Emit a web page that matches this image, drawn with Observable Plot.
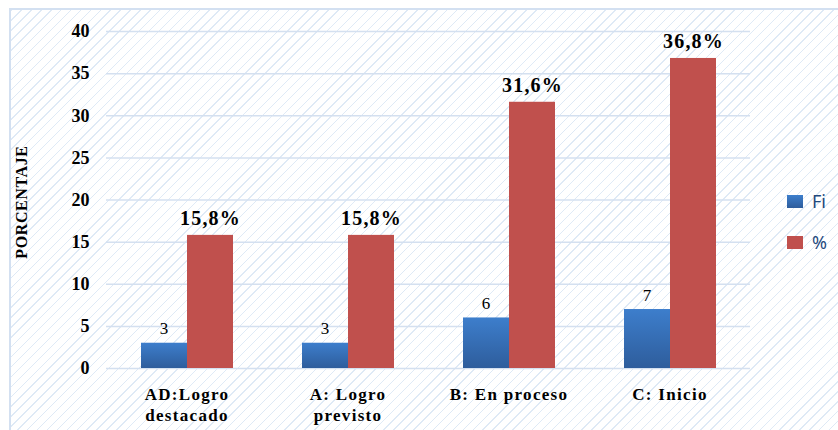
<!DOCTYPE html>
<html><head><meta charset="utf-8">
<script src="https://cdn.jsdelivr.net/npm/d3@7"></script>
<script src="https://cdn.jsdelivr.net/npm/@observablehq/plot@0.6"></script>
<style>
body{margin:0;background:#fff;}
#wrap{position:relative;width:838px;height:430px;overflow:hidden;}
#frame{position:absolute;left:9px;top:8px;width:840px;height:440px;border:2px solid #D3E0F1;box-sizing:border-box;
 background:repeating-linear-gradient(135deg, rgba(196,216,238,0.55) 0 1px, rgba(255,255,255,0) 1px 7px);}
#chart{position:absolute;left:0;top:0;}
#chart g[aria-label="fx-axis tick label"] text{letter-spacing:1.3px;}
#chart g[aria-label="text"] text{letter-spacing:1.2px;}
#ytitle{position:absolute;left:22px;top:202px;transform:translate(-50%,-50%) rotate(-90deg);font:bold 16px "Liberation Serif";letter-spacing:0.6px;color:#000;white-space:nowrap;}
.lg{position:absolute;left:787px;font:18px "Noto Sans";color:#1F497D;display:flex;align-items:center;}
.lg span{display:inline-block;width:16px;height:13px;margin-right:9px;}
</style></head>
<body>
<svg width="0" height="0" style="position:absolute">
 <defs>
  <linearGradient id="gBlue" x1="0" y1="0" x2="0" y2="1">
   <stop offset="0" stop-color="#3D7ECC"/>
   <stop offset="1" stop-color="#2E5D9C"/>
  </linearGradient>
 </defs>
</svg>
<div id="wrap">
 <div id="frame"></div>
 <div id="chart"></div>
 <div id="ytitle">PORCENTAJE</div>
 <div class="lg" style="top:189px"><span style="background:linear-gradient(#3D7ECC,#2E5D9C)"></span>Fi</div>
 <div class="lg" style="top:230px"><span style="background:#C0504D"></span>%</div>
</div>
<script>
const categories = ["AD:Logro\ndestacado", "A: Logro\nprevisto", "B: En proceso", "C: Inicio"];
const series = ["Fi", "%"];
const fiValues = [3, 3, 6, 7];
const pctValues = [15.8, 15.8, 31.6, 36.8];
const yTicks = [0, 5, 10, 15, 20, 25, 30, 35, 40];

const rowsFi = categories.map((c, i) => ({cat: c, serie: "Fi", value: fiValues[i], label: String(fiValues[i])}));
const rowsPct = categories.map((c, i) => ({cat: c, serie: "%", value: pctValues[i], label: pctValues[i].toFixed(1).replace(".", ",") + "%"}));

const chart = Plot.plot({
  width: 838, height: 430,
  marginLeft: 106, marginRight: 88, marginTop: 31, marginBottom: 62,
  style: {background: "transparent", fontFamily: "Liberation Serif", color: "#000", overflow: "visible"},
  fx: {domain: categories, padding: 0, label: null},
  x: {domain: series, paddingInner: 0, paddingOuter: 0.74, axis: null},
  y: {domain: [0, 40], label: null},
  marks: [
    Plot.gridY(yTicks, {stroke: "#D4E0F0", strokeOpacity: 1, strokeWidth: 1.5}),
    Plot.barY(rowsFi, {fx: "cat", x: "serie", y: "value", fill: "url(#gBlue)"}),
    Plot.barY(rowsPct, {fx: "cat", x: "serie", y: "value", fill: "#C0504D"}),
    Plot.text(rowsFi, {fx: "cat", x: "serie", y: "value", text: "label", dy: -9, lineAnchor: "bottom", fontSize: 17, fill: "#000"}),
    Plot.text(rowsPct, {fx: "cat", x: "serie", y: "value", text: "label", dy: -10, lineAnchor: "bottom", fontSize: 20, fontWeight: "bold", fill: "#000"}),
    Plot.axisY(yTicks, {tickSize: 0, tickPadding: 17, fontSize: 18, fontWeight: "bold", label: null, fill: "#000"}),
    Plot.axisFx({anchor: "bottom", tickSize: 0, tickPadding: 16, fontSize: 17, fontWeight: "bold", lineHeight: 1.25, label: null, fill: "#000"})
  ]
});
document.getElementById("chart").appendChild(chart);
</script>
</body></html>
